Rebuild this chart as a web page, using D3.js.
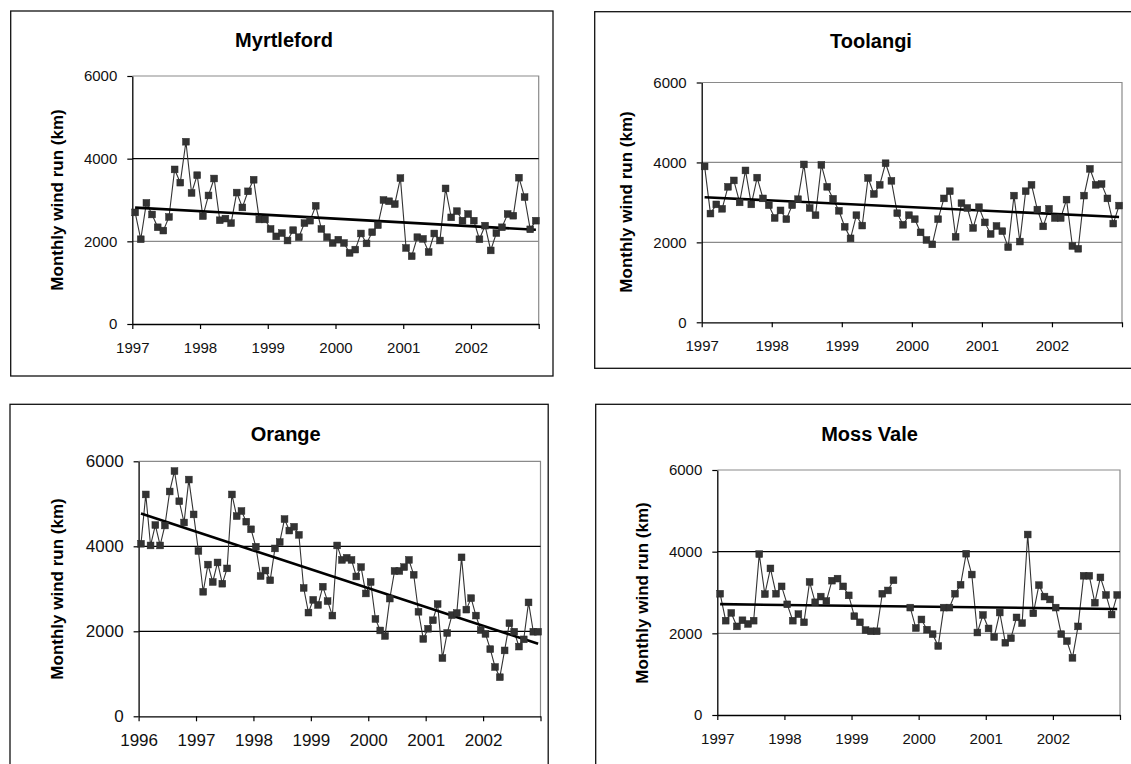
<!DOCTYPE html>
<html><head><meta charset="utf-8">
<script src="https://cdn.jsdelivr.net/npm/d3@7"></script>
<style>
html,body{margin:0;padding:0;background:#fff;}
svg{display:block;font-family:"Liberation Sans",Arial,Helvetica,sans-serif;}
</style></head><body>
<svg id="chart" width="1131" height="764"></svg>
<script>
// ---------------- DATA ----------------
const stationNames = ["Myrtleford", "Toolangi", "Orange", "Moss Vale"];
const startYears = [1997, 1997, 1996, 1997];
const endYear = 2003;
const yTickValues = [0, 2000, 4000, 6000];
const yAxisTitle = "Monthly wind run (km)";

// monthly wind run (km), one value per month from January of the start year
const myrtleford = [
  2700, 2050, 2930, 2650, 2340, 2260, 2590, 3740, 3420, 4410, 3170, 3600,
  2610, 3110, 3520, 2510, 2550, 2440, 3180, 2820, 3210, 3490, 2530, 2530,
  2300, 2120, 2200, 2020, 2270, 2100, 2440, 2500, 2860, 2300, 2100, 1960,
  2040, 1960, 1720, 1800, 2190, 1950, 2220, 2390, 3000, 2970, 2900, 3530,
  1840, 1640, 2100, 2060, 1740, 2190, 2020, 3280, 2580, 2730, 2500, 2660,
  2500, 2050, 2380, 1780, 2200, 2340, 2660, 2620, 3540, 3070, 2290, 2500
];
const toolangi = [
  3900, 2720, 2950, 2840, 3390, 3550, 3000, 3800, 2950, 3620, 3100, 2930,
  2610, 2800, 2580, 2930, 3080, 3950, 2860, 2680, 3940, 3390, 3090, 2790,
  2390, 2100, 2680, 2420, 3610, 3210, 3440, 3980, 3540, 2730, 2440, 2680,
  2580, 2250, 2060, 1950, 2580, 3100, 3280, 2140, 2980, 2860, 2360, 2880,
  2500, 2210, 2410, 2280, 1880, 3170, 2020, 3280, 3440, 2820, 2400, 2840,
  2610, 2610, 3070, 1910, 1840, 3170, 3840, 3440, 3460, 3100, 2470, 2920
];
const orange = [
  4060, 5220, 4020, 4500, 4020, 4490, 5290, 5770, 5060, 4560, 5570, 4750,
  3890, 2930, 3570, 3160, 3620, 3120, 3480, 5220, 4710, 4830, 4580, 4400,
  3990, 3300, 3430, 3200, 3950, 4100, 4640, 4370, 4460, 4270, 3020, 2440,
  2740, 2620, 3050, 2710, 2370, 4020, 3680, 3730, 3680, 3290, 3510, 2890,
  3160, 2290, 2020, 1890, 2770, 3420, 3420, 3510, 3680, 3330, 2460, 1820,
  2060, 2260, 2640, 1370, 1960, 2380, 2430, 3740, 2510, 2780, 2370, 2030,
  1940, 1580, 1160, 920, 1550, 2190, 1990, 1640, 1810, 2680, 1990, 1990
];
const mossVale = [
  2970, 2310, 2500, 2170, 2320, 2230, 2310, 3940, 2960, 3590, 2970, 3150,
  2710, 2310, 2470, 2270, 3260, 2760, 2900, 2790, 3290, 3340, 3150, 2930,
  2420, 2270, 2080, 2050, 2050, 2970, 3050, 3300, null, null, 2630, 2130,
  2340, 2090, 1980, 1690, 2630, 2630, 2970, 3190, 3950, 3440, 2020, 2450,
  2120, 1910, 2510, 1770, 1880, 2390, 2250, 4420, 2490, 3180, 2900, 2830,
  2630, 1980, 1810, 1400, 2170, 3410, 3410, 2750, 3370, 2940, 2460, 2940
];
const seriesList = [myrtleford, toolangi, orange, mossVale];

// ---------------- LAYOUT / STYLE ----------------
const layout = [
  { frame: [10.7, 11, 553, 376], plot: [132.3, 76, 538.7, 324],
    title: [284, 47.3], ylab: [57, 200], titleSize: 20, tickSize: 15, ylabSize: 17,
    grid: { 2000: "#8a8a8a", 4000: "#000" } },
  { frame: [594.7, 11.7, 1140, 368.3], plot: [701.7, 82.5, 1122, 322.3],
    title: [871, 48], ylab: [626, 202], titleSize: 20, tickSize: 15, ylabSize: 17,
    grid: { 2000: "#8a8a8a", 4000: "#8a8a8a" } },
  { frame: [10, 404.3, 548.2, 770], plot: [138.6, 461.3, 540.5, 716.3],
    title: [285.7, 441], ylab: [57, 589], titleSize: 20, tickSize: 17, ylabSize: 17,
    grid: { 2000: "#000", 4000: "#000" } },
  { frame: [595.7, 404.3, 1140, 770], plot: [717.3, 470, 1120, 715],
    title: [869.5, 440.7], ylab: [642, 593], titleSize: 20, tickSize: 15, ylabSize: 17,
    grid: { 2000: "#8a8a8a", 4000: "#000" } }
];

const svg = d3.select("#chart");

seriesList.forEach((values, k) => {
  const L = layout[k];
  const [px0, py0, px1, py1] = L.plot;
  const y0 = startYears[k];
  const g = svg.append("g");

  // outer frame
  g.append("rect")
    .attr("x", L.frame[0]).attr("y", L.frame[1])
    .attr("width", L.frame[2] - L.frame[0]).attr("height", L.frame[3] - L.frame[1])
    .attr("fill", "none").attr("stroke", "#111").attr("stroke-width", 1.3);

  const x = d3.scaleLinear().domain([y0, endYear]).range([px0, px1]);
  const y = d3.scaleLinear().domain([0, 6000]).range([py1, py0]);

  // plot border (top & right, grey)
  g.append("path")
    .attr("d", `M${x(y0)},${y(6000)}H${x(endYear)}V${y(0)}`)
    .attr("fill", "none").attr("stroke", "#8a8a8a").attr("stroke-width", 1.2);

  // gridlines
  [2000, 4000].forEach(v => {
    g.append("line")
      .attr("x1", x(y0)).attr("x2", x(endYear))
      .attr("y1", y(v)).attr("y2", y(v))
      .attr("stroke", L.grid[v]).attr("stroke-width", 1.2);
  });

  // axes
  const years = d3.range(y0, endYear + 1);
  const xAxis = d3.axisBottom(x).tickValues(years)
    .tickFormat(d => d < endYear ? String(d) : "")
    .tickSize(5).tickSizeOuter(0).tickPadding(13);
  const gx = g.append("g").attr("transform", `translate(0,${y(0)})`).call(xAxis);
  const yAxis = d3.axisLeft(y).tickValues(yTickValues).tickFormat(d => String(d))
    .tickSize(5).tickSizeOuter(0).tickPadding(10);
  const gy = g.append("g").attr("transform", `translate(${x(y0)},0)`).call(yAxis);
  [gx, gy].forEach(a => {
    a.selectAll("path.domain").attr("stroke", "#000").attr("stroke-width", 1.3);
    a.selectAll(".tick line").attr("stroke", "#000").attr("stroke-width", 1.2);
    a.selectAll("text").attr("fill", "#111")
      .style("font-size", L.tickSize + "px")
      .style("font-family", "'Liberation Sans', Arial, sans-serif");
  });

  // series
  const pts = values.map((v, i) => ({ t: y0 + (i + 0.5) / 12, v, i }));
  const line = d3.line().defined(d => d.v != null).x(d => x(d.t)).y(d => y(d.v));
  g.append("path").datum(pts).attr("d", line)
    .attr("fill", "none").attr("stroke", "#333").attr("stroke-width", 1.1);

  // linear trend (least squares)
  const valid = pts.filter(d => d.v != null);
  const mx = d3.mean(valid, d => d.t), my = d3.mean(valid, d => d.v);
  const sxy = d3.sum(valid, d => (d.t - mx) * (d.v - my));
  const sxx = d3.sum(valid, d => (d.t - mx) * (d.t - mx));
  const slope = sxy / sxx, icpt = my - slope * mx;
  const ends = [valid[0], valid[valid.length - 1]].map(d => ({ t: d.t, v: icpt + slope * d.t }));
  g.append("path").datum(ends)
    .attr("d", d3.line().x(d => x(d.t)).y(d => y(d.v)))
    .attr("fill", "none").attr("stroke", "#000").attr("stroke-width", 2.6);

  // markers
  const s = 6.8;
  g.selectAll("rect.pt").data(valid).join("rect").attr("class", "pt")
    .attr("x", d => x(d.t) - s / 2).attr("y", d => y(d.v) - s / 2)
    .attr("width", s).attr("height", s)
    .attr("fill", "#333").attr("stroke", "#2a2a2a").attr("stroke-width", 0.5);

  // title
  g.append("text").attr("x", L.title[0]).attr("y", L.title[1])
    .attr("text-anchor", "middle").attr("font-weight", "bold")
    .style("font-size", L.titleSize + "px").attr("fill", "#000")
    .text(stationNames[k]);

  // y-axis title
  g.append("text")
    .attr("transform", `translate(${L.ylab[0]},${L.ylab[1]}) rotate(-90)`)
    .attr("text-anchor", "middle").attr("dominant-baseline", "central")
    .attr("font-weight", "bold").style("font-size", L.ylabSize + "px").attr("fill", "#000")
    .text(yAxisTitle);
});
</script>
</body></html>
